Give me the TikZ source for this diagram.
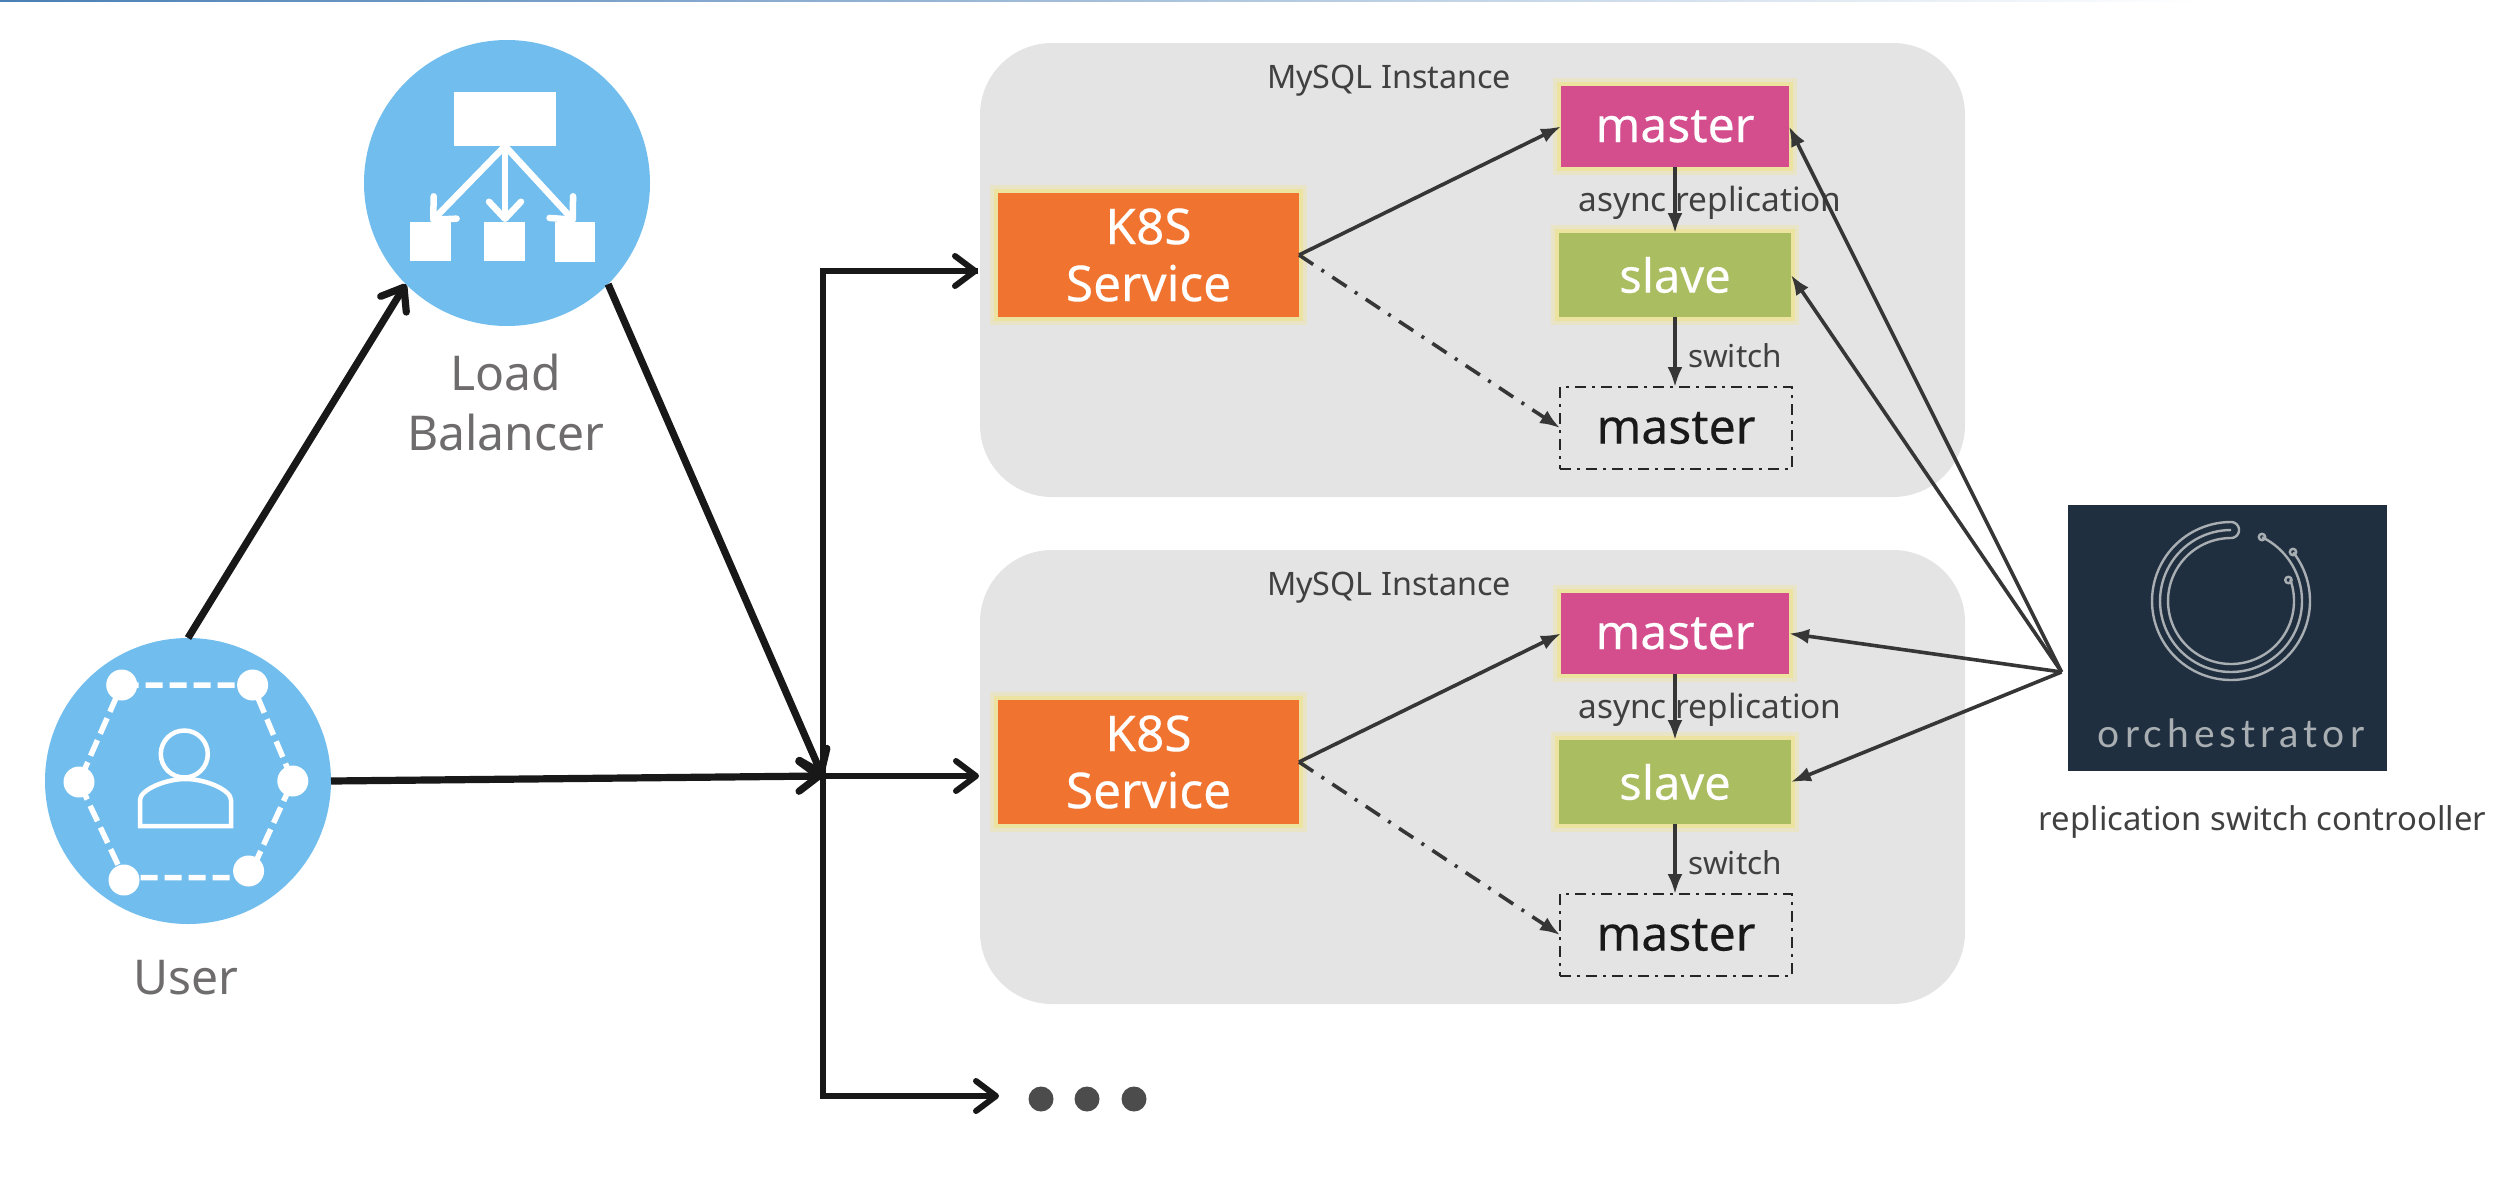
\documentclass[tikz,border=0pt]{standalone}
\usepackage{fontspec}
\setmainfont{Noto Sans}
\newfontfamily\boxfont[FakeBold=0.25]{Noto Sans}
\newfontfamily\orchfont[LetterSpace=13]{Lato}
\usetikzlibrary{arrows.meta}
\definecolor{inkk}{HTML}{181818}
\definecolor{thin}{HTML}{363636}
\definecolor{sky}{HTML}{71BDEE}
\definecolor{panelg}{HTML}{E4E4E4}
\definecolor{glow}{HTML}{EDE3A0}
\definecolor{orng}{HTML}{F07430}
\definecolor{pink}{HTML}{D44E8E}
\definecolor{leaf}{HTML}{AABD60}
\definecolor{navy}{HTML}{202F40}
\definecolor{ringc}{HTML}{A8AEB2}
\definecolor{capt}{HTML}{6E6C6C}
\definecolor{labc}{HTML}{404040}
\definecolor{topline}{HTML}{4A7FB5}
\tikzset{
  x=1pt,y=-1pt,
  bubble/.style={circle,fill=sky,minimum size=286pt,inner sep=0,outer sep=0},
  panel/.style={rectangle,rounded corners=72pt,fill=panelg,minimum width=985pt,minimum height=454pt,inner sep=0,outer sep=0},
  glowbox/.style={rectangle,inner sep=0,outer sep=0,text=white,align=center,
    preaction={draw=glow!45!panelg,line width=16pt},
    preaction={draw=glow,line width=8pt}},
  backup/.style={rectangle,inner sep=0,outer sep=0,draw=black!85,line width=2.5pt,
    dash pattern=on 11pt off 6pt on 3pt off 6pt,text=black!90},
  bus/.style={draw=inkk,line width=6pt},
  busthick/.style={bus,line width=7.2pt},
  barbed/.style={-{Straight Barb[length=20pt,width=30pt,round]}},
  link/.style={draw=thin,line width=3.6pt,-{Latex[length=20pt,width=15pt]}},
  linkdd/.style={link,dash pattern=on 17pt off 10pt on 3pt off 10pt},
  tinylab/.style={text=labc,inner sep=0},
  caption/.style={text=capt,align=center,font=\fontsize{48}{60}\selectfont,inner sep=0},
  iconarrow/.style={draw=white,line width=6.5pt,-{Straight Barb[length=17pt,width=32pt,round]}},
  ring/.style={draw=ringc,line width=2.4pt},
}
\begin{document}
\begin{tikzpicture}
\useasboundingbox (0,0) rectangle (2508,1186);
\fill[left color=topline,right color=white] (0,0) rectangle (2200,1.6);

% circles
\node[bubble] (lb) at (507,183) {};
\node[bubble] (user) at (188,781) {};
\node[caption] (lbtext) at (506,402) {Load\\Balancer};
\node[caption] (usertext) at (186,978) {User};

% load balancer icon
\fill[white] (454,92) rectangle (556,146);
\fill[white] (410,222) rectangle (451,261);
\fill[white] (484,222) rectangle (525,261);
\fill[white] (555,222) rectangle (595,262);
\draw[iconarrow] (505,146) -- (431,222);
\draw[iconarrow] (505,146) -- (505,222);
\draw[iconarrow] (505,146) -- (575,222);

% user icon
\draw[white,line width=5.5pt,dash pattern=on 17pt off 7pt]
  (121.7,685) -- (252.6,685) -- (292.8,781) -- (248.6,877.5) -- (124,877.5) -- (79,782) -- cycle;
\foreach \p in {(121.7,685),(252.6,685),(292.8,781),(248.6,871),(124,880),(79,782)}
  \fill[white] \p circle[radius=15.5pt];
\draw[white,line width=4.5pt] (184.3,754) circle[radius=23.5pt];
\draw[white,line width=4.5pt] (140,826) -- (140,800) .. controls (140,790) and (165,779) .. (185.5,779)
  .. controls (206,779) and (231,790) .. (231,800) -- (231,826) -- cycle;

% bus
\coordinate (jct) at (822.5,776);
\coordinate (busTop) at (822.5,271);
\coordinate (busBottom) at (822.5,1096);
\coordinate (upperIn) at (978,271);
\coordinate (lowerIn) at (979,776);
\coordinate (moreIn) at (999,1096);

% panels and nodes
\foreach \o/\n in {0/a,507/b}{
  \node[panel] (panel\n) at (1472.5,{270+\o}) {};
  \node[tinylab,font=\fontsize{32.3}{36}\selectfont] (title\n) at (1389,{81+\o}) {MySQL Instance};
  \node[glowbox,fill=orng,minimum width=301pt,minimum height=124pt,font=\boxfont\fontsize{49.5}{57}\selectfont] (k8s\n) at (1148.5,{255+\o}) {K8S\\Service};
  \node[glowbox,fill=pink,minimum width=228pt,minimum height=81pt,font=\boxfont\fontsize{48}{57}\selectfont] (master\n) at (1675,{126.5+\o}) {\raisebox{-1.5pt}{master}};
  \node[glowbox,fill=leaf,minimum width=232pt,minimum height=84pt,font=\boxfont\fontsize{47}{57}\selectfont] (slave\n) at (1675,{275+\o}) {slave};
  \node[backup,minimum width=232pt,minimum height=82pt,font=\boxfont\fontsize{48}{57}\selectfont] (backup\n) at (1676,{428+\o}) {master};
  \node[tinylab,font=\fontsize{33.4}{36}\selectfont] (async\n) at (1710,{203+\o}) {async replication};
  \node[tinylab,font=\fontsize{31.5}{36}\selectfont] (switch\n) at (1735,{356+\o}) {switch};
}

% bus lines
\draw[busthick,barbed] (user.north) -- (lb.225);
\draw[busthick,barbed] (lb.-45) -- (jct);
\draw[busthick,barbed] (user.east) -- (jct);
\draw[bus,barbed] (jct) -- (lowerIn);
\draw[bus,barbed,line join=miter] (upperIn) -- (busTop) -- (busBottom) -- (moreIn);
\draw[bus,{Straight Barb[length=20pt,width=30pt,round]}-] (upperIn) -- (busTop);

% dots
\foreach \x/\m in {1041/a,1087/b,1134/c}
  \node[circle,fill=black!70,minimum size=25pt,inner sep=0] (dot\m) at (\x,1099) {};

% orchestrator
\node[rectangle,fill=navy,minimum width=319pt,minimum height=266pt,inner sep=0,outer sep=0] (orch) at (2227.5,638) {};
\coordinate (apex) at (2061.5,672);
\draw[ring] plot[domain=90:398,samples=90] ({2231+79*cos(\x)},{601-79*sin(\x)});
\draw[ring] plot[domain=90:424,samples=90] ({2231+71*cos(\x)},{601-71*sin(\x)});
\draw[ring] plot[domain=90:380,samples=90] ({2231+63*cos(\x)},{601-63*sin(\x)});
\draw[ring] plot[domain=90:-90,samples=24] ({2231+8*cos(\x)},{530-8*sin(\x)});
\draw[ring] (2262,537) circle[radius=3.2pt];
\draw[ring] (2293,552) circle[radius=3.2pt];
\draw[ring] (2288.4,580) circle[radius=3.2pt];
\node[text=ringc,inner sep=0,font=\orchfont\fontsize{39}{44}\selectfont] (orchname) at (2231,733) {orchestrator};
\node[text=labc,inner sep=0,font=\fontsize{32.8}{36}\selectfont] (orchcap) at (2262.5,822) {replication switch controoller};

% thin links
\foreach \n in {a,b}{
  \draw[link] (k8s\n.east) -- (master\n.west);
  \draw[linkdd] (k8s\n.east) -- (backup\n.west);
  \draw[link] (master\n.south) -- (slave\n.north);
  \draw[link] (slave\n.south) -- (backup\n.north -| slave\n.south);
  \draw[link] (apex) -- (master\n.east);
  \draw[link] (apex) -- (slave\n.east);
}
\end{tikzpicture}
\end{document}
